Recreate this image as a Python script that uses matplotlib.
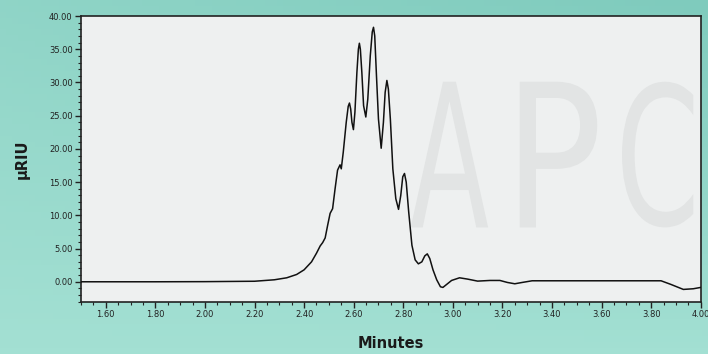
import numpy as np
import matplotlib
matplotlib.use('Agg')
import matplotlib.pyplot as plt
from matplotlib import font_manager
from matplotlib.textpath import TextPath
from matplotlib.patches import PathPatch
from matplotlib.transforms import Affine2D
from matplotlib.ticker import MultipleLocator, FormatStrFormatter

# chromatogram trace (minutes, uRIU)
minutes = [1.50, 1.80, 2.00, 2.20, 2.28, 2.33, 2.37, 2.40, 2.43, 2.45,
           2.465, 2.475, 2.485, 2.495, 2.505, 2.515, 2.525, 2.535, 2.545, 2.550,
           2.558, 2.570, 2.578, 2.583, 2.588, 2.593, 2.599, 2.605, 2.613, 2.619,
           2.623, 2.627, 2.633, 2.640, 2.649, 2.657, 2.667, 2.675, 2.680, 2.685,
           2.692, 2.700, 2.711, 2.720, 2.727, 2.734, 2.740, 2.748, 2.758, 2.770,
           2.781, 2.790, 2.798, 2.805, 2.812, 2.822, 2.835, 2.848, 2.861, 2.875,
           2.887, 2.897, 2.907, 2.920, 2.935, 2.950, 2.960, 2.975, 2.995, 3.027,
           3.06, 3.10, 3.15, 3.19, 3.22, 3.25, 3.28, 3.32, 3.40, 3.60,
           3.84, 3.88, 3.93, 3.97, 4.00]
riu = [0.0, 0.0, 0.02, 0.08, 0.3, 0.6, 1.1, 1.8, 3.0, 4.3,
       5.4, 5.9, 6.6, 8.5, 10.3, 11.0, 14.0, 16.8, 17.6, 17.0,
       19.5, 24.0, 26.4, 26.9, 26.0, 24.0, 22.9, 25.5, 31.5, 35.0,
       35.9, 35.0, 31.5, 26.5, 24.8, 27.5, 34.0, 37.6, 38.3, 37.0,
       31.0, 24.5, 20.1, 24.0, 28.5, 30.3, 29.0, 24.5, 17.0, 12.5,
       10.9, 13.0, 15.8, 16.3, 15.0, 10.5, 5.5, 3.3, 2.7, 3.0,
       3.9, 4.2, 3.5, 1.8, 0.3, -0.75, -0.85, -0.4, 0.2, 0.6,
       0.4, 0.1, 0.2, 0.2, -0.1, -0.3, -0.1, 0.15, 0.15, 0.15,
       0.15, -0.4, -1.15, -1.05, -0.85]

names = {f.name for f in font_manager.fontManager.ttflist}
narrow = 'Liberation Sans Narrow' if 'Liberation Sans Narrow' in names else 'DejaVu Sans'

fig = plt.figure(figsize=(7.08, 3.54), dpi=100)
fig.patch.set_facecolor('#93d7c9')

# teal background gradient
bg = fig.add_axes([0, 0, 1, 1], zorder=-5)
gy, gx = np.mgrid[0:1:60j, 0:1:120j]
shade = 0.55 * gy + 0.25 * (1 - gx) * (1 - gy)
bg.imshow(shade, cmap=matplotlib.colors.LinearSegmentedColormap.from_list(
    'teal', ['#7fcbbd', '#a3e0d3']), aspect='auto', extent=[0, 1, 0, 1])
bg.axis('off')

ax = fig.add_axes([0.1144, 0.1477, 0.8753, 0.8071])
ax.set_facecolor('#eef0f0')

# faint "APC" watermark
for letter, x0, w in [('A', 0.532, 0.125), ('P', 0.708, 0.125), ('C', 0.873, 0.115)]:
    tp = TextPath((0, 0), letter, size=1, prop=font_manager.FontProperties(family='DejaVu Sans'))
    ext = tp.get_extents()
    tr = Affine2D().translate(-ext.x0, -ext.y0).scale(w / ext.width, 0.51 / ext.height) \
        .translate(x0, 0.26) + ax.transAxes
    ax.add_patch(PathPatch(tp, transform=tr, fc='#e2e4e4', ec='none', zorder=0))

ax.plot(minutes, riu, color='#111111', linewidth=1.1, zorder=3)

ax.set_xlim(1.5, 4.0)
ax.set_ylim(-3, 40)
ax.xaxis.set_major_locator(MultipleLocator(0.2))
ax.xaxis.set_minor_locator(MultipleLocator(0.05))
ax.yaxis.set_major_locator(MultipleLocator(5))
ax.yaxis.set_minor_locator(MultipleLocator(1))
ax.xaxis.set_major_formatter(FormatStrFormatter('%.2f'))
ax.yaxis.set_major_formatter(FormatStrFormatter('%.2f'))
ax.set_xticks([t for t in np.arange(1.6, 4.01, 0.2)])

ax.tick_params(axis='both', which='major', direction='out', length=4, width=1,
               labelsize=6, colors='#222222', pad=2)
ax.tick_params(axis='both', which='minor', direction='out', length=2.2, width=0.8,
               colors='#222222')
for lab in ax.get_xticklabels() + ax.get_yticklabels():
    lab.set_family(narrow)

for s in ax.spines.values():
    s.set_color('#222222')
    s.set_linewidth(1.2)

ax.set_xlabel('Minutes', fontsize=10.5, fontweight='bold', family=narrow, color='#1a1a1a', labelpad=12)
ax.set_ylabel('µRIU', fontsize=10.5, fontweight='bold', family=narrow, color='#1a1a1a', labelpad=14)

fig.savefig('out.png', dpi=100, facecolor=fig.get_facecolor())
